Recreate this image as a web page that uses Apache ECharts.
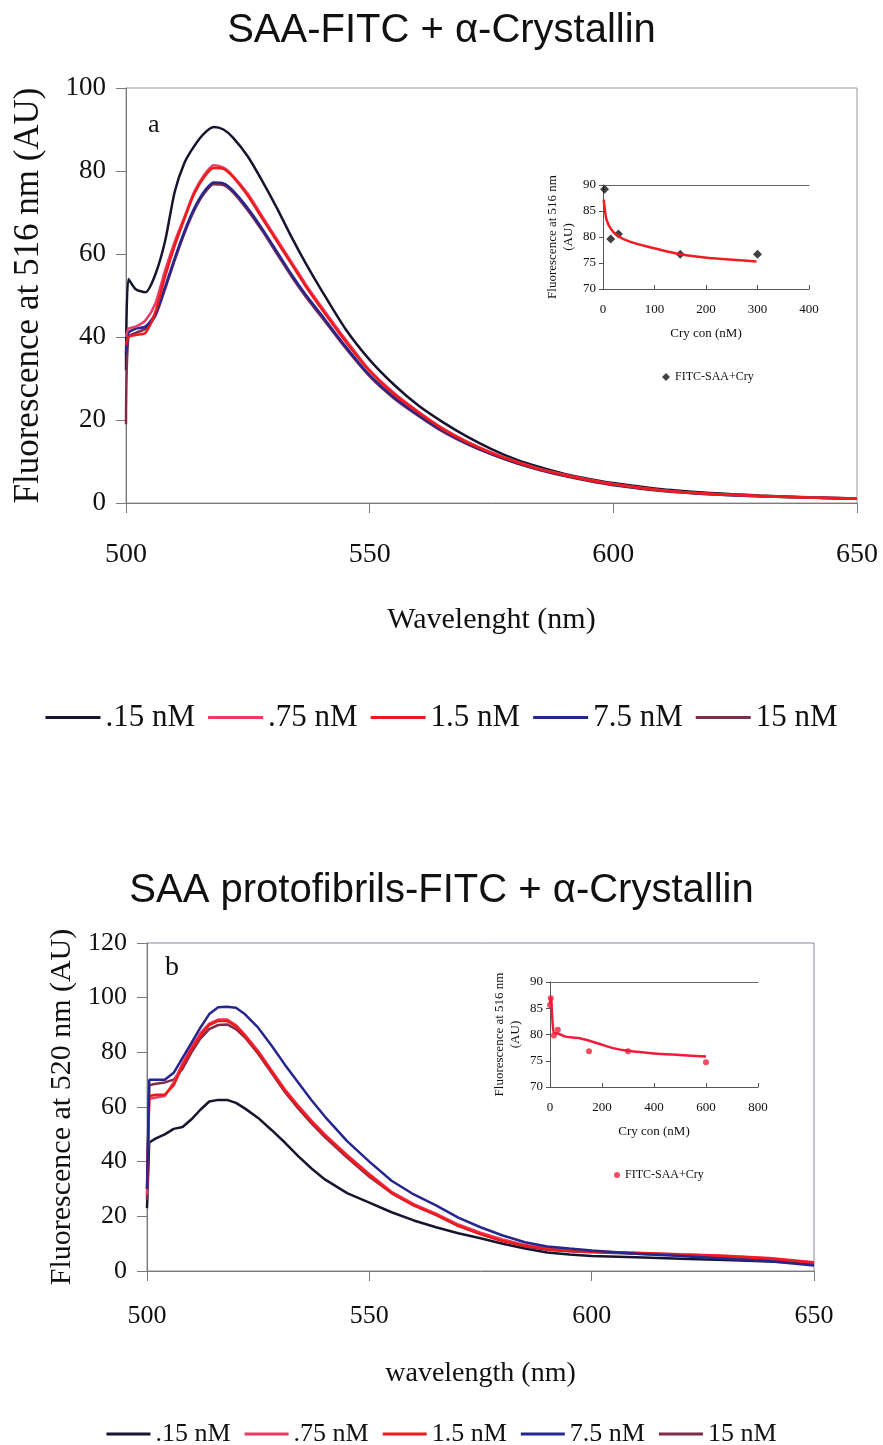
<!DOCTYPE html>
<html>
<head>
<meta charset="utf-8">
<title>SAA-FITC + α-Crystallin</title>
<script src="https://cdn.jsdelivr.net/npm/echarts@6/dist/echarts.min.js"></script>
<style>
    html, body { margin: 0; padding: 0; background: #fff; }
    #chart { width: 883px; height: 1445px; }
</style>
</head>
<body>
<div id="chart"></div>
<script>
// wavelength grid shared by every spectrum (nm)
const wavelengths = [500, 500.5, 502, 504, 506, 508, 510, 512, 514, 516, 518, 520, 522, 525, 528, 531, 534, 537, 540, 545,
    550, 555, 560, 565, 570, 575, 580, 585, 590, 595, 600, 610, 620, 630, 640, 650]

// panel a: SAA-FITC
const a015 = [32, 54, 51.5, 50.8, 55, 63, 75, 82, 86, 89, 90.6, 90, 88, 83.5, 77.5, 71, 64, 57.5, 51.5, 42,
    34.5, 28.5, 23.5, 19.5, 16, 13, 10.5, 8.6, 7, 5.8, 4.8, 3.3, 2.4, 1.8, 1.4, 1.1]
const a075 = [40, 42, 42.5, 44, 48, 56, 63, 69, 75, 79, 81.4, 80.8, 78.8, 74.5, 69, 63.5, 58, 52.5, 47.5, 39.5,
    32, 26.5, 22, 18, 14.8, 12.2, 10, 8.2, 6.8, 5.6, 4.6, 3.1, 2.2, 1.7, 1.3, 1.1]
const a15 = [38, 40, 40.5, 41, 46, 54.5, 62, 68.5, 74.5, 78.5, 80.7, 80.5, 78.5, 74, 68.5, 63, 57.5, 52, 47, 39,
    31.8, 26.2, 21.8, 17.8, 14.6, 12, 9.9, 8.1, 6.7, 5.5, 4.5, 3, 2.2, 1.7, 1.3, 1.1]
const a75 = [36, 41, 42, 42.5, 45.5, 52, 59, 65.5, 71, 75, 77.2, 77, 75.2, 71, 66, 60.5, 55, 50, 45.5, 37.8,
    30.8, 25.5, 21.2, 17.4, 14.3, 11.8, 9.7, 8, 6.6, 5.4, 4.4, 3, 2.1, 1.6, 1.3, 1]
const a150 = [19, 40, 41, 42, 45, 51.5, 58.5, 65, 70.5, 74.5, 76.8, 76.6, 74.8, 70.5, 65.5, 60, 54.5, 49.5, 45, 37.4,
    30.5, 25.2, 21, 17.2, 14.2, 11.7, 9.6, 7.9, 6.5, 5.3, 4.3, 2.9, 2.1, 1.6, 1.3, 1]

// panel b: SAA protofibrils-FITC
const b015 = [23, 47, 48.5, 50, 52, 52.7, 55.5, 59, 62, 62.6, 62.6, 61.5, 59.5, 56, 51.6, 47, 42, 37.5, 33.5, 28.5,
    25, 21.5, 18.5, 16, 13.8, 12, 10, 8.2, 6.8, 6, 5.5, 5, 4.5, 4, 3.5, 2.8]
const b075 = [28, 63, 63.5, 64, 69, 76, 82, 87, 90.5, 92, 92, 90, 86.5, 80.5, 73.5, 66.5, 60.5, 55, 50, 42.5,
    35.5, 29, 24.5, 21, 17, 14, 11.5, 9.5, 8.3, 7.5, 7.1, 6.7, 6.1, 5.6, 4.8, 3.2]
const b15 = [30, 64, 64.5, 64.5, 68, 75, 81, 86, 90, 91.5, 91.5, 89.5, 86, 80, 73, 66, 60, 54.5, 49.5, 42,
    35, 28.5, 24, 20.5, 16.5, 13.5, 11, 9.2, 8, 7.3, 7, 6.6, 6, 5.5, 4.6, 3]
const b75 = [30, 70, 70, 70, 72.5, 78, 83.5, 89, 94, 96.5, 96.7, 96.3, 94, 89, 82.5, 75.5, 69, 62.5, 56.5, 47.5,
    40, 33, 28, 24, 19.5, 16, 13, 10.5, 9, 8.2, 7.5, 6.3, 5.5, 4.5, 3.6, 2]
const b150 = [26, 68, 68.5, 69, 70, 74, 80, 85, 88.5, 90, 90.2, 88.5, 85.5, 79.5, 72.5, 65.5, 59.5, 54, 49, 41.5,
    34.5, 28.5, 24, 20.5, 16.5, 13.5, 11, 9, 7.8, 7.2, 6.9, 6.3, 5.8, 5.2, 4.3, 2.8]

// insets: fluorescence at 516 nm vs Cry concentration
const insetAConc = [3, 15, 30, 150, 300]
const insetAVals = [89.2, 79.6, 80.6, 76.7, 76.7]
const fitAConc = [1.5, 3, 7, 15, 26, 52, 97, 149, 214, 298]
const fitAVals = [87.2, 85.8, 83.3, 81.6, 80.4, 79.1, 77.9, 76.7, 75.9, 75.3]
const insetBConc = [0, 3, 15, 30, 150, 300, 600]
const insetBVals = [85.6, 86.9, 79.8, 80.9, 76.8, 76.8, 74.7]
const fitBConc = [0, 3, 15, 30, 60, 115, 192, 243, 300, 400, 500, 600]
const fitBVals = [85.8, 87, 80.3, 80.2, 79.6, 79.3, 78.2, 77.4, 76.9, 76.4, 76.1, 75.8]

const seriesNames = ['.15 nM', '.75 nM', '1.5 nM', '7.5 nM', '15 nM']
const colors = {
    '.15 nM': '#15152f',
    '.75 nM': '#ec3b62',
    '1.5 nM': '#f01a1a',
    '7.5 nM': '#262690',
    '15 nM': '#7e2b4c'
}

const serif = 'Liberation Serif'
const ink = '#111'
const axisGray = '#7a7a7a'

function pairs(xs, ys) {
    return xs.map((x, i) => [x, ys[i]])
}

function spectrum(name, ys, axisIndex, smooth) {
    return {
        name,
        type: 'line',
        xAxisIndex: axisIndex,
        yAxisIndex: axisIndex === 0 ? 0 : 2,
        data: pairs(wavelengths, ys),
        symbol: 'none',
        smooth,
        lineStyle: { color: colors[name], width: 2.5 },
        itemStyle: { color: colors[name] }
    }
}

function mainX(gridIndex, fontSize, margin, name, nameGap) {
    return {
        gridIndex, type: 'value', min: 500, max: 650, interval: 50,
        name, nameLocation: 'middle', nameGap,
        nameTextStyle: { fontFamily: serif, fontSize: fontSize + 2, color: ink },
        axisLine: { lineStyle: { color: axisGray } },
        axisTick: { length: 10, lineStyle: { color: axisGray } },
        axisLabel: { fontFamily: serif, fontSize, color: ink, margin },
        splitLine: { show: false }
    }
}

function mainY(gridIndex, max, fontSize, name, nameGap, nameSize) {
    return {
        gridIndex, type: 'value', min: 0, max, interval: 20,
        name, nameLocation: 'middle', nameGap,
        nameTextStyle: { fontFamily: serif, fontSize: nameSize, color: ink },
        axisLine: { show: true, lineStyle: { color: axisGray } },
        axisTick: { show: true, length: 10, lineStyle: { color: axisGray } },
        axisLabel: { fontFamily: serif, fontSize, color: ink, margin: 20 },
        splitLine: { show: false }
    }
}

function insetX(gridIndex, max, interval, margin, nameGap) {
    return {
        gridIndex, type: 'value', min: 0, max, interval,
        name: 'Cry con (nM)', nameLocation: 'middle', nameGap,
        nameTextStyle: { fontFamily: serif, fontSize: 13, color: ink },
        axisLine: { lineStyle: { color: '#555' } },
        axisTick: { length: 4, inside: true, lineStyle: { color: '#555' } },
        axisLabel: { fontFamily: serif, fontSize: 13, color: ink, margin },
        splitLine: { show: false }
    }
}

function insetTop(gridIndex, max) {
    return {
        gridIndex, type: 'value', position: 'top', min: 0, max,
        axisLine: { lineStyle: { color: '#666' } },
        axisTick: { show: false }, axisLabel: { show: false }, splitLine: { show: false }
    }
}

function insetY(gridIndex, nameGap) {
    return {
        gridIndex, type: 'value', min: 70, max: 90, interval: 5,
        name: 'Fluorescence at 516 nm\n(AU)', nameLocation: 'middle', nameGap,
        nameTextStyle: { fontFamily: serif, fontSize: 13, color: ink, lineHeight: 16 },
        axisLine: { show: true, lineStyle: { color: '#555' } },
        axisTick: { show: true, length: 4, lineStyle: { color: '#555' } },
        axisLabel: { fontFamily: serif, fontSize: 13, color: ink, margin: 7 },
        splitLine: { show: false }
    }
}

const chart = echarts.init(document.getElementById('chart'), null, { renderer: 'canvas' })

const option = {
    animation: false,
    backgroundColor: '#fff',
    title: [
        {
            text: 'SAA-FITC + α-Crystallin', left: 'center', top: 6,
            textStyle: { fontFamily: 'Liberation Sans', fontSize: 40, fontWeight: 'normal', color: ink }
        },
        {
            text: 'SAA protofibrils-FITC + α-Crystallin', left: 'center', top: 866,
            textStyle: { fontFamily: 'Liberation Sans', fontSize: 40, fontWeight: 'normal', color: ink }
        }
    ],
    graphic: [
        { type: 'text', left: 148, top: 112, style: { text: 'a', font: '26px "Liberation Serif"', fill: ink } },
        { type: 'text', left: 165, top: 954, style: { text: 'b', font: '28px "Liberation Serif"', fill: ink } }
    ],
    legend: [
        {
            data: seriesNames, left: 'center', top: 697, icon: 'rect', itemWidth: 55, itemHeight: 3, itemGap: 13,
            textStyle: { fontFamily: serif, fontSize: 31, color: ink }
        },
        {
            data: seriesNames, left: 'center', top: 1416, icon: 'rect', itemWidth: 44, itemHeight: 3, itemGap: 14,
            textStyle: { fontFamily: serif, fontSize: 26, color: ink }
        },
        {
            data: [{ name: 'FITC-SAA+Cry', icon: 'diamond', itemStyle: { color: '#111' } }],
            left: 657, top: 366, itemWidth: 8, itemHeight: 8, itemGap: 4,
            textStyle: { fontFamily: serif, fontSize: 12, color: ink }
        },
        {
            data: [{ name: 'FITC-SAA+Cry', icon: 'circle', itemStyle: { color: '#f0203a' } }],
            left: 609, top: 1164, itemWidth: 6, itemHeight: 6, itemGap: 4,
            textStyle: { fontFamily: serif, fontSize: 12, color: ink }
        }
    ],
    grid: [
        { left: 126, right: 26, top: 88, bottom: 942, show: true, borderColor: '#9a9a9a', borderWidth: 1 },
        { left: 603, right: 74, top: 185, bottom: 1156 },
        { left: 147, right: 69, top: 943, bottom: 174, show: true, borderColor: '#8a8aa0', borderWidth: 1 },
        { left: 550, right: 125, top: 982, bottom: 358 }
    ],
    xAxis: [
        mainX(0, 28, 38, 'Wavelenght (nm)', 102),
        insetX(1, 400, 100, 14, 38),
        insetTop(1, 400),
        mainX(2, 26, 32, 'wavelength (nm)', 89),
        insetX(3, 800, 200, 14, 38),
        insetTop(3, 800)
    ],
    yAxis: [
        mainY(0, 100, 27, 'Fluorescence at 516 nm (AU)', 80, 35),
        insetY(1, 26),
        mainY(2, 120, 26, 'Fluorescence at 520 nm (AU)', 70, 30),
        insetY(3, 26)
    ],
    series: [
        spectrum('.15 nM', a015, 0, 0.25),
        spectrum('15 nM', a150, 0, 0.25),
        spectrum('7.5 nM', a75, 0, 0.25),
        spectrum('.75 nM', a075, 0, 0.25),
        spectrum('1.5 nM', a15, 0, 0.25),

        spectrum('.15 nM', b015, 3, false),
        spectrum('15 nM', b150, 3, false),
        spectrum('.75 nM', b075, 3, false),
        spectrum('1.5 nM', b15, 3, false),
        spectrum('7.5 nM', b75, 3, false),

        {
            name: 'fit a', type: 'line', xAxisIndex: 1, yAxisIndex: 1,
            data: pairs(fitAConc, fitAVals), symbol: 'none', smooth: 0.4,
            lineStyle: { color: '#f01c24', width: 2.5 }
        },
        {
            name: 'FITC-SAA+Cry', type: 'scatter', xAxisIndex: 1, yAxisIndex: 1,
            data: pairs(insetAConc, insetAVals), symbol: 'diamond', symbolSize: 9,
            itemStyle: { color: '#111' }
        },
        {
            name: 'fit b', type: 'line', xAxisIndex: 4, yAxisIndex: 3,
            data: pairs(fitBConc, fitBVals), symbol: 'none', smooth: 0.3,
            lineStyle: { color: '#f01c3a', width: 2.5 }
        },
        {
            name: 'FITC-SAA+Cry', type: 'scatter', xAxisIndex: 4, yAxisIndex: 3,
            data: pairs(insetBConc, insetBVals), symbol: 'circle', symbolSize: 6,
            itemStyle: { color: '#f0203a' }
        }
    ]
}

chart.setOption(option)
</script>
</body>
</html>
